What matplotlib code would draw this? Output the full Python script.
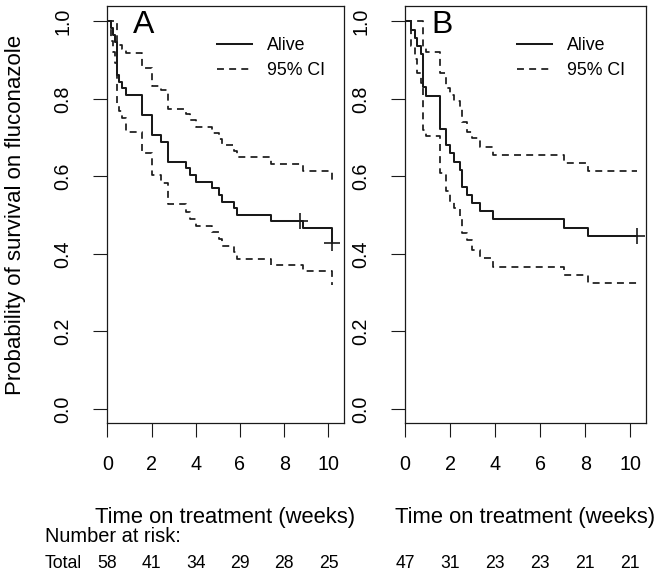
"""Kaplan-Meier curves (two panels) with number-at-risk table underneath."""

import matplotlib
matplotlib.use("Agg")
import matplotlib.pyplot as plt
from matplotlib.lines import Line2D
from matplotlib.transforms import blended_transform_factory

plt.rcParams["font.family"] = ["Liberation Sans", "DejaVu Sans"]

# ---------------------------------------------------------------------------
# Data
# ---------------------------------------------------------------------------

# Panel A
a_time = [0, 0.15, 0.25, 0.35, 0.43, 0.53, 0.68, 0.85, 1.59, 2.01, 2.42, 2.74,
          3.58, 3.74, 4.0, 4.73, 5.03, 5.18, 5.71, 5.86, 7.42, 8.84, 10.14]
a_surv = [1.0, 0.983, 0.966, 0.948, 0.862, 0.845, 0.828, 0.810, 0.759, 0.707,
          0.690, 0.638, 0.621, 0.604, 0.586, 0.569, 0.552, 0.535, 0.518, 0.501,
          0.484, 0.467, 0.428]
a_upper = [1.0, 1.0, 1.0, 1.0, 0.948, 0.940, 0.930, 0.918, 0.880, 0.834, 0.824,
           0.774, 0.761, 0.746, 0.729, 0.713, 0.698, 0.682, 0.666, 0.651, 0.633,
           0.613, 0.587]
a_lower = [1.0, 0.950, 0.920, 0.893, 0.785, 0.770, 0.752, 0.716, 0.660, 0.604,
           0.584, 0.529, 0.509, 0.491, 0.473, 0.456, 0.438, 0.421, 0.404, 0.388,
           0.371, 0.355, 0.320]
a_end = 10.14
a_cens_time = [8.73, 10.14]
a_cens_surv = [0.484, 0.428]

# Panel B
b_time = [0, 0.25, 0.45, 0.55, 0.70, 0.82, 0.94, 1.54, 1.84, 1.99, 2.17, 2.43,
          2.54, 2.77, 2.99, 3.32, 3.89, 7.07, 8.12]
b_surv = [1.0, 0.979, 0.957, 0.936, 0.915, 0.830, 0.809, 0.723, 0.681, 0.660,
          0.638, 0.617, 0.574, 0.553, 0.532, 0.511, 0.489, 0.468, 0.447]
b_upper = [1.0, 1.0, 1.0, 1.0, 1.0, 0.935, 0.920, 0.867, 0.828, 0.811, 0.795,
           0.777, 0.740, 0.716, 0.699, 0.677, 0.656, 0.634, 0.615]
b_lower = [1.0, 0.938, 0.902, 0.868, 0.840, 0.720, 0.705, 0.608, 0.563, 0.535,
           0.518, 0.496, 0.454, 0.436, 0.411, 0.389, 0.367, 0.346, 0.325]
b_end = 10.28
b_cens_time = [10.28]
b_cens_surv = [0.447]

# Number at risk
risk_times = [0, 2, 4, 6, 8, 10]
risk_a = [58, 41, 34, 29, 28, 25]
risk_b = [47, 31, 23, 23, 21, 21]

panel_labels = ["A", "B"]
legend_labels = ["Alive", "95% CI"]
xlabel = "Time on treatment (weeks)"
ylabel = "Probability of survival on fluconazole"

# ---------------------------------------------------------------------------
# Style
# ---------------------------------------------------------------------------

INK = "#1a1a1a"
LW = 1.25
DASH = (4.0, 3.0)

W, H = 664, 576
fig = plt.figure(figsize=(W / 100, H / 100), dpi=100)

box_top, box_bottom = 6, 423.3
axA = fig.add_axes([107.3 / W, 1 - box_bottom / H, (343.5 - 107.3) / W, (box_bottom - box_top) / H])
axB = fig.add_axes([405 / W, 1 - box_bottom / H, (645.7 - 405) / W, (box_bottom - box_top) / H])


def step_xy(t, s, end):
    t = list(t)
    s = list(s)
    if end > t[-1]:
        t.append(end)
        s.append(s[-1])
    return t, s


def draw_panel(ax, t, s, lo, hi, end, ct, cs, label):
    x, y = step_xy(t, s, end)
    ax.step(x, y, where="post", color=INK, lw=LW + 0.2)
    for band in (lo, hi):
        x, y = step_xy(t, band, end)
        ax.step(x, y, where="post", color=INK, lw=LW, linestyle=(0, DASH))
    ax.plot(ct, cs, linestyle="none", marker="+", markersize=11, mew=1.2, color=INK)

    ax.set_xlim(0, 10.68)
    ax.set_ylim(-0.037, 1.04)
    ax.set_xticks(risk_times)
    ax.set_yticks([0.0, 0.2, 0.4, 0.6, 0.8, 1.0])
    ax.set_yticklabels(["0.0", "0.2", "0.4", "0.6", "0.8", "1.0"])
    ax.tick_params(direction="out", length=10, width=0.8, color=INK,
                   labelsize=14.2, pad=13)
    ax.tick_params(axis="y", labelrotation=90, pad=15)
    for lab in ax.get_yticklabels():
        lab.set_va("center")
    for sp in ax.spines.values():
        sp.set_linewidth(0.9)
        sp.set_color(INK)

    ax.text(0.109, 0.935, label, transform=ax.transAxes, fontsize=23,
            ha="left", va="baseline")

    handles = [Line2D([], [], color=INK, lw=LW + 0.2),
               Line2D([], [], color=INK, lw=LW, linestyle=(0, DASH))]
    ax.legend(handles, legend_labels, loc="upper left",
              bbox_to_anchor=(0.465, 0.925), frameon=False, fontsize=12.8,
              handlelength=1.95, handletextpad=0.85, labelspacing=0.42,
              borderpad=0, borderaxespad=0)

    ax.set_xlabel(xlabel, fontsize=15.8)
    ax.xaxis.set_label_coords(0.5, -0.2)


draw_panel(axA, a_time, a_surv, a_lower, a_upper, a_end, a_cens_time, a_cens_surv, panel_labels[0])
draw_panel(axB, b_time, b_surv, b_lower, b_upper, b_end, b_cens_time, b_cens_surv, panel_labels[1])

axA.set_ylabel(ylabel, fontsize=16)
axA.yaxis.set_label_coords(-0.345, 0.5)

# Number-at-risk table
fig.text(45 / W, 1 - 537 / H, "Number at risk:", fontsize=14.4, va="center", ha="left")
fig.text(45 / W, 1 - 564 / H, "Total", fontsize=12.7, va="center", ha="left")
for ax, counts in ((axA, risk_a), (axB, risk_b)):
    tr = blended_transform_factory(ax.transData, fig.transFigure)
    for t, n in zip(risk_times, counts):
        ax.text(t, 1 - 564 / H, str(n), transform=tr, fontsize=12.7,
                ha="center", va="center", clip_on=False)

fig.savefig("out.png", dpi=100)
